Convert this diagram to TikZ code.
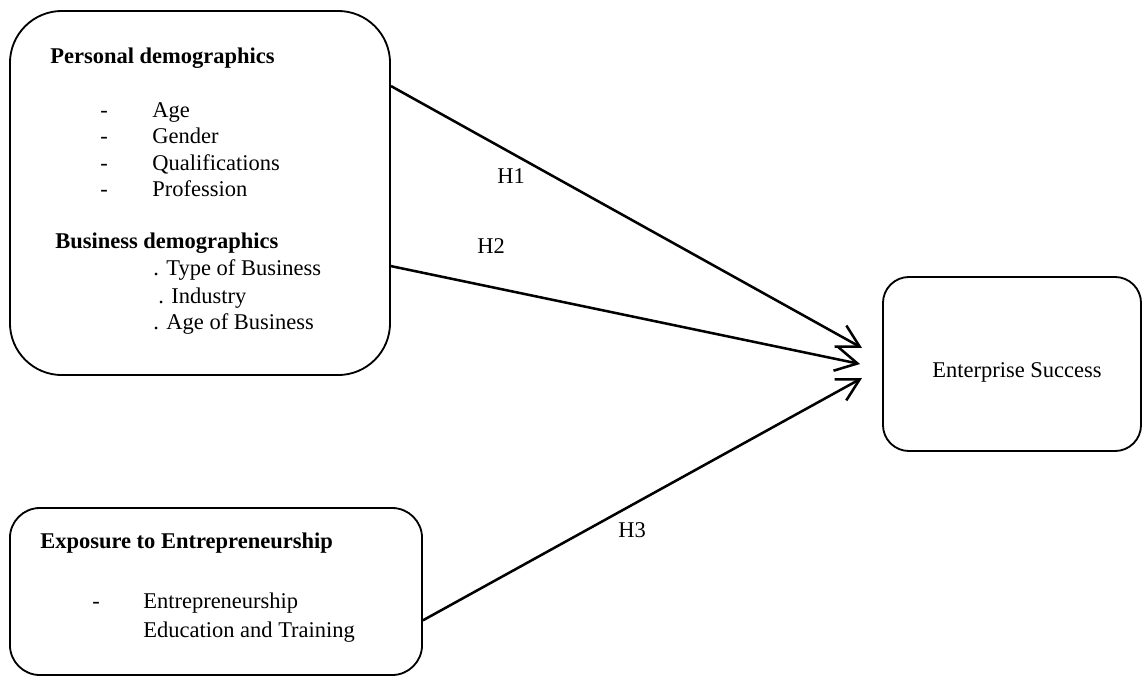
\documentclass[tikz,border=0pt]{standalone}
\usepackage{fontspec}
\setmainfont{Liberation Serif}
\usepackage{tikz}
\usetikzlibrary{arrows.meta}
\tikzstyle{box}=[rectangle,draw=black,line width=1.3pt,inner sep=0pt]
\tikzstyle{txt}=[anchor=base west,inner sep=0pt,font=\fontsize{16}{19}\selectfont]
\tikzstyle{link}=[line width=1.8pt,-{Straight Barb[length=5.5mm,width=6mm,line width=1.8pt]}]

\begin{document}
\begin{tikzpicture}[x=0.025cm,y=-0.025cm]
        \useasboundingbox (0,0) rectangle (1142,677);

        \node at (200,193)    [box,rounded corners=1.3cm,minimum width=9.5cm,minimum height=9.1cm]   (pd) {};
        \node at (216,591.5)  [box,rounded corners=0.75cm,minimum width=10.3cm,minimum height=4.175cm] (ex) {};
        \node at (1012,364)   [box,rounded corners=0.65cm,minimum width=6.45cm,minimum height=4.35cm] (es) {};
        \node at (1017,377)   [txt,anchor=base] (eslabel) {Enterprise Success};

        \node at (50,63)   [txt] (pdhead) {\textbf{Personal demographics}};
        \node at (100,117) [txt] (d1) {-};
        \node at (152,117) [txt] (age) {Age};
        \node at (100,143) [txt] (d2) {-};
        \node at (152,143) [txt] (gender) {Gender};
        \node at (100,170) [txt] (d3) {-};
        \node at (152,170) [txt] (qual) {Qualifications};
        \node at (100,196) [txt] (d4) {-};
        \node at (152,196) [txt] (prof) {Profession};

        \node at (55,248)  [txt] (bdhead) {\textbf{Business demographics}};
        \node at (153,275) [txt] (type) {. Type of Business};
        \node at (158,303) [txt] (ind) {. Industry};
        \node at (153,329) [txt] (bage) {. Age of Business};

        \node at (40,548)  [txt] (exhead) {\textbf{Exposure to Entrepreneurship}};
        \node at (92,608)  [txt] (d5) {-};
        \node at (143,608) [txt] (edu1) {Entrepreneurship};
        \node at (143,637) [txt] (edu2) {Education and Training};

        \coordinate (s1) at ([yshift=-1.9cm]pd.north east);
        \coordinate (s2) at ([yshift=-6.4cm]pd.north east);
        \coordinate (s3) at ([yshift=-0.72cm]ex.east);
        \coordinate (t1) at ([xshift=-0.5cm,yshift=0.4cm]es.west);
        \coordinate (t2) at ([xshift=-0.55cm]es.west);
        \coordinate (t3) at ([xshift=-0.5cm,yshift=-0.35cm]es.west);

        \draw [link] (s1) -- (t1);
        \draw [link] (s2) -- (t2);
        \draw [link] (s3) -- (t3);

        \node at (497,183) [txt] (h1) {H1};
        \node at (477,253) [txt] (h2) {H2};
        \node at (618,537) [txt] (h3) {H3};
      \end{tikzpicture}
\end{document}
